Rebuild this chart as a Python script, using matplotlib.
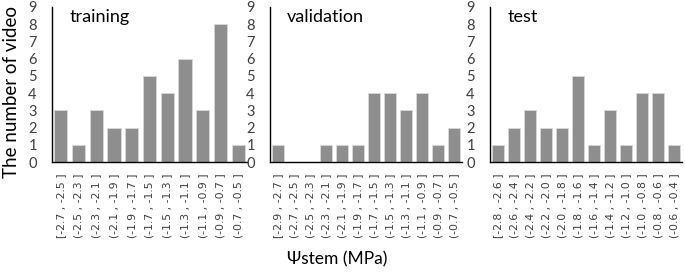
import matplotlib
matplotlib.use("Agg")
import matplotlib.pyplot as plt

W, H = 685, 272

train_labels = ["[-2.7 , -2.5 ]", "(-2.5 , -2.3 ]", "(-2.3 , -2.1 ]", "(-2.1 , -1.9 ]",
                "(-1.9 , -1.7 ]", "(-1.7 , -1.5 ]", "(-1.5 , -1.3 ]", "(-1.3 , -1.1 ]",
                "(-1.1 , -0.9 ]", "(-0.9 , -0.7 ]", "(-0.7 , -0.5 ]"]
train_values = [3, 1, 3, 2, 2, 5, 4, 6, 3, 8, 1]

val_labels = ["[-2.9 , -2.7 ]", "(-2.7 , -2.5 ]", "(-2.5 , -2.3 ]", "(-2.3 , -2.1 ]",
              "(-2.1 , -1.9 ]", "(-1.9 , -1.7 ]", "(-1.7 , -1.5 ]", "(-1.5 , -1.3 ]",
              "(-1.3 , -1.1 ]", "(-1.1 , -0.9 ]", "(-0.9 , -0.7 ]", "(-0.7 , -0.5 ]"]
val_values = [1, 0, 0, 1, 1, 1, 4, 4, 3, 4, 1, 2]

test_labels = ["[-2.8 , -2.6 ]", "(-2.6 , -2.4 ]", "(-2.4 , -2.2 ]", "(-2.2 , -2.0 ]",
               "(-2.0 , -1.8 ]", "(-1.8 , -1.6 ]", "(-1.6 , -1.4 ]", "(-1.4 , -1.2 ]",
               "(-1.2 , -1.0 ]", "(-1.0 , -0.8 ]", "(-0.8 , -0.6 ]", "(-0.6 , -0.4 ]"]
test_values = [1, 2, 3, 2, 2, 5, 1, 3, 1, 4, 4, 1]

titles = ["training", "validation", "test"]
y_ticks = list(range(0, 10))

fig = plt.figure(figsize=(W / 100, H / 100), dpi=100)
fig.patch.set_facecolor("white")

panels = [(52, 247, train_labels, train_values),
          (270, 462, val_labels, val_values),
          (490, 682, test_labels, test_values)]
top_px, bot_px = 7, 162
grey_text = "#404040"
bar_color = "#8e8e8e"

for (x0, x1, labels, values), title in zip(panels, titles):
    ax = fig.add_axes([x0 / W, (H - bot_px) / H, (x1 - x0) / W, (bot_px - top_px) / H])
    n = len(labels)
    ax.bar(range(n), values, width=0.74, color=bar_color, edgecolor="#d9d9d9", linewidth=0.6)
    ax.set_xlim(-0.5, n - 0.5)
    ax.set_ylim(0, 9)
    ax.set_yticks(y_ticks)
    ax.set_yticklabels([str(v) for v in y_ticks], fontfamily="Lato", fontsize=10.5, color=grey_text)
    ax.set_xticks(range(n))
    ax.set_xticklabels(labels, rotation=90, fontfamily="DejaVu Sans", fontsize=7.8, color=grey_text)
    ax.tick_params(axis="both", length=0)
    ax.tick_params(axis="y", pad=14)
    ax.tick_params(axis="x", pad=8)
    for lab in ax.get_yticklabels():
        lab.set_horizontalalignment("center")
    for s in ["top", "right"]:
        ax.spines[s].set_visible(False)
    ax.spines["left"].set_color("#000000")
    ax.spines["bottom"].set_color("#000000")
    ax.spines["left"].set_linewidth(1.0)
    ax.spines["bottom"].set_linewidth(1.0)
    ax.text(0.09, 0.935, title, transform=ax.transAxes, fontfamily="Lato", fontsize=13,
            color="#000000", va="center", ha="left")

fig.text(12 / W, 1 - 92 / H, "The number of video", rotation=90, ha="center", va="center",
         fontfamily="Lato", fontsize=13.5, color="#000000")
fig.text(337 / W, 1 - 259 / H, "\u03a8stem (MPa)", ha="center", va="center",
         fontfamily="Lato", fontsize=12.5, color="#000000")

fig.savefig("out.png", dpi=100, facecolor="white")
